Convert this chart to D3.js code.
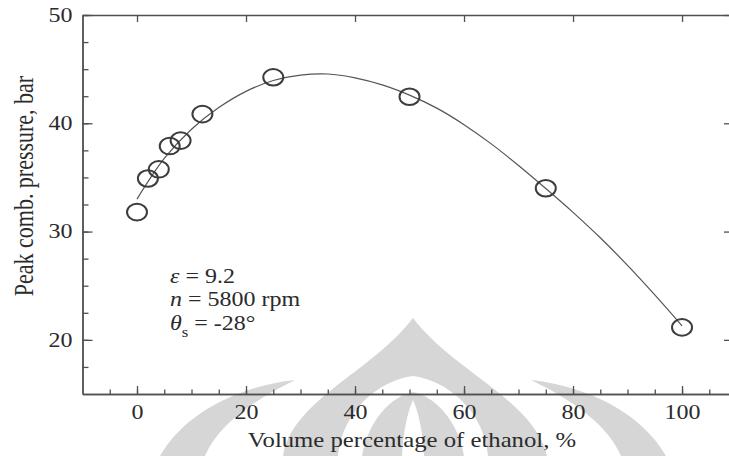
<!DOCTYPE html>
<html>
<head>
<meta charset="utf-8">
<script src="https://cdn.jsdelivr.net/npm/d3@7"></script>
<style>
  html, body { margin: 0; padding: 0; background: #fff; }
  svg { display: block; }
</style>
</head>
<body>
<svg id="chart" width="729" height="456"></svg>
<script>
// Measured peak combustion pressure vs. ethanol volume fraction
const ethanolPct = [0, 2, 4, 6, 8, 12, 25, 50, 75, 100];
const peakPressure = [31.8, 34.9, 35.75, 37.9, 38.4, 40.85, 44.25, 42.45, 34.0, 21.15];

// Fitted trend curve, sampled along the ethanol axis
const fitPct = [0, 5, 10, 15, 20, 25, 30, 35, 40, 45, 50, 55, 60, 65, 70, 75, 80, 85, 90, 95, 100];
const fitPressure = [33.0, 36.75, 39.45, 41.45, 42.95, 43.95, 44.45, 44.55, 44.2, 43.55, 42.6, 41.4,
                     39.875, 38.1, 36.1, 33.975, 31.775, 29.425, 26.875, 24.15, 21.3];

// Axis ticks
const xMajorTicks = [0, 20, 40, 60, 80, 100];
const xMinorTicks = [-5, 0, 5, 10, 15, 20, 25, 30, 35, 40, 45, 50, 55, 60, 65, 70, 75, 80, 85, 90, 95, 100, 105];
const yMajorTicks = [20, 30, 40, 50];
const yMinorTicks = [17.5, 20, 22.5, 25, 27.5, 30, 32.5, 35, 37.5, 40, 42.5, 45, 47.5, 50];

// Operating conditions
const conditionLines = [
  { sym: "ε", sub: "", rest: " = 9.2" },
  { sym: "n", sub: "", rest: " = 5800 rpm" },
  { sym: "θ", sub: "s", rest: " = -28°" }
];

const xLabel = "Volume percentage of ethanol, %";
const yLabel = "Peak comb. pressure, bar";

const svg = d3.select("#chart");
const FONT = "'Liberation Serif', 'Times New Roman', serif";
const TEXT = "#2b2b2b";
const AXIS = "#505050";
const STRETCH = 1.2;   // glyphs are drawn slightly wide

const plotLeft = 82.5, plotRight = 730, plotTop = 15, plotBottom = 394;

const x = d3.scaleLinear().domain([-10, 108.8]).range([plotLeft, plotRight]);
const y = d3.scaleLinear().domain([15, 50]).range([plotBottom, plotTop]);

// Faint emblem in the background
const emblem = svg.append("g").attr("fill", "#d6d6d6");
emblem.append("path")
  .attr("d", "M283,456 C292,400 372,372 413,318 C454,372 534,400 547,456 Z");
emblem.append("path").attr("fill", "#fff")
  .attr("d", "M338,456 C342,410 380,380 413,376 C446,380 484,410 488,456 Z");
emblem.append("path")
  .attr("d", "M362,456 C368,420 392,396 413,392 C434,396 458,420 464,456 Z");
emblem.append("path").attr("fill", "#fff")
  .attr("d", "M402,456 C403,430 409,408 413,400 C417,408 423,430 424,456 Z");
emblem.append("path")
  .attr("d", "M160,456 C185,412 240,386 295,380 C250,402 218,426 205,456 Z");
emblem.append("path")
  .attr("d", "M666,456 C641,412 586,386 531,380 C576,402 608,426 621,456 Z");

// Axes
function styleAxis(g) {
  g.selectAll(".domain").attr("stroke", AXIS).attr("stroke-width", 1.4);
  g.selectAll(".tick line").attr("stroke", AXIS).attr("stroke-width", 1.3);
  g.selectAll("text")
    .attr("fill", TEXT)
    .style("font-family", FONT)
    .style("font-size", "20px")
    .attr("transform", `scale(${STRETCH},1)`);
}

// bottom
svg.append("g").attr("transform", `translate(0,${plotBottom})`)
  .call(d3.axisBottom(x).tickValues(xMinorTicks).tickSizeInner(-4.5).tickSizeOuter(0).tickFormat(""))
  .call(styleAxis);
svg.append("g").attr("transform", `translate(0,${plotBottom})`)
  .call(d3.axisBottom(x).tickValues(xMajorTicks).tickSizeInner(-8).tickSizeOuter(0)
        .tickPadding(10.8).tickFormat(d3.format("d")))
  .call(styleAxis);
// top
svg.append("g").attr("transform", `translate(0,${plotTop})`)
  .call(d3.axisTop(x).tickValues(xMajorTicks).tickSizeInner(-7).tickSizeOuter(0).tickFormat(""))
  .call(styleAxis);
// left
svg.append("g").attr("transform", `translate(${plotLeft},0)`)
  .call(d3.axisLeft(y).tickValues(yMinorTicks).tickSizeInner(-6).tickSizeOuter(0).tickFormat(""))
  .call(styleAxis);
svg.append("g").attr("transform", `translate(${plotLeft},0)`)
  .call(d3.axisLeft(y).tickValues(yMajorTicks).tickSizeInner(-10).tickSizeOuter(0)
        .tickPadding(8.3).tickFormat(d3.format("d")))
  .call(styleAxis);
// right
svg.append("g").attr("transform", `translate(${plotRight},0)`)
  .call(d3.axisRight(y).tickValues(yMajorTicks).tickSizeInner(-6).tickSizeOuter(0).tickFormat(""))
  .call(styleAxis);

// Trend curve
const line = d3.line()
  .x((d, i) => x(fitPct[i]))
  .y(d => y(d))
  .curve(d3.curveCatmullRom.alpha(0.5));
svg.append("path")
  .datum(fitPressure)
  .attr("d", line)
  .attr("fill", "none")
  .attr("stroke", "#555")
  .attr("stroke-width", 1.2);

// Measured points
svg.append("g").selectAll("ellipse")
  .data(peakPressure)
  .join("ellipse")
  .attr("cx", (d, i) => x(ethanolPct[i]))
  .attr("cy", d => y(d))
  .attr("rx", 10)
  .attr("ry", 8.3)
  .attr("fill", "none")
  .attr("stroke", "#3c3c3c")
  .attr("stroke-width", 2);

// Axis titles
svg.append("text")
  .attr("transform", `translate(412,447) scale(${STRETCH},1)`)
  .attr("text-anchor", "middle")
  .attr("fill", TEXT)
  .style("font-family", FONT)
  .style("font-size", "20.6px")
  .text(xLabel);

svg.append("text")
  .attr("transform", `translate(33,186) scale(${STRETCH},1) rotate(-90)`)
  .attr("text-anchor", "middle")
  .attr("fill", TEXT)
  .style("font-family", FONT)
  .style("font-size", "22px")
  .text(yLabel);

// Operating-condition annotation
const note = svg.append("g").attr("transform", `translate(170,283) scale(${STRETCH},1)`);
conditionLines.forEach((c, i) => {
  const t = note.append("text")
    .attr("x", 0)
    .attr("y", i * 23.5)
    .attr("fill", TEXT)
    .style("font-family", FONT)
    .style("font-size", "20px");
  t.append("tspan").style("font-style", "italic").text(c.sym);
  if (c.sub) {
    t.append("tspan").attr("dy", 7).style("font-size", "14px").text(c.sub);
    t.append("tspan").attr("dy", -7).text(c.rest);
  } else {
    t.append("tspan").text(c.rest);
  }
});
</script>
</body>
</html>
